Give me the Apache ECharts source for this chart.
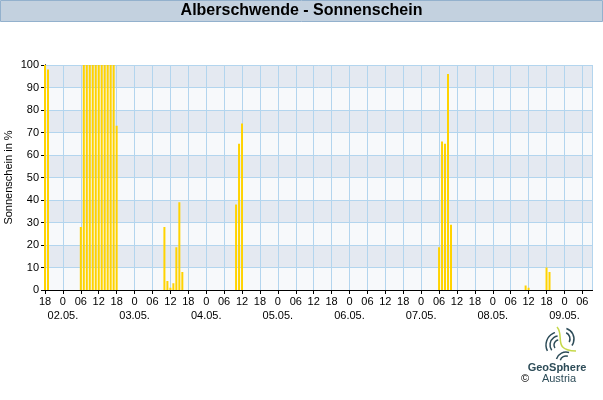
<!DOCTYPE html>
<html>
<head>
<meta charset="utf-8">
<script src="https://cdn.jsdelivr.net/npm/echarts@6/dist/echarts.min.js"></script>
<style>html,body{margin:0;padding:0;background:#fff;}#c{width:603px;height:400px;}</style>
</head>
<body>
<div id="c"></div>
<script>
// ---- data ----
const chartTitle = 'Alberschwende - Sonnenschein';
const yAxisName = 'Sonnenschein in %';
const startDay = 1;      // 01.05.
const startHour = 18;    // axis starts 01.05. 18
const axisHours = 183.4; // axis span in hours
const hourLabels = ['0', '06', '12', '18'];
const dateLabels = ['01.05.', '02.05.', '03.05.', '04.05.', '05.05.', '06.05.', '07.05.', '08.05.', '09.05.'];
const sunTimes = [
  '01.05. 18', '01.05. 19',
  '02.05. 06', '02.05. 07', '02.05. 08', '02.05. 09', '02.05. 10', '02.05. 11', '02.05. 12',
  '02.05. 13', '02.05. 14', '02.05. 15', '02.05. 16', '02.05. 17', '02.05. 18',
  '03.05. 10', '03.05. 11', '03.05. 12', '03.05. 13', '03.05. 14', '03.05. 15', '03.05. 16',
  '04.05. 10', '04.05. 11', '04.05. 12',
  '07.05. 06', '07.05. 07', '07.05. 08', '07.05. 09', '07.05. 10',
  '08.05. 11', '08.05. 12', '08.05. 18', '08.05. 19'
];
const sunValues = [
  100, 98,
  28, 100, 100, 100, 100, 100, 100,
  100, 100, 100, 100, 100, 73,
  28, 4, 1, 3, 19, 39, 8,
  38, 65, 74,
  19, 66, 65, 96, 29,
  2, 1, 10, 8
];

// ---- build ----
function toOffset(s) {
  const day = parseInt(s.slice(0, 2), 10);
  const hour = parseInt(s.slice(7), 10);
  return (day - startDay) * 24 + hour - startHour;
}
const barData = sunTimes.map((t, i) => [toOffset(t), sunValues[i]]);

function hourOf(v) { const t = startHour + v; return ((t % 24) + 24) % 24; }
function dayIndexOf(v) { return Math.floor((startHour + v) / 24); }

const gridColor = '#b3d5ee';
const font = 'Liberation Sans, Arial, sans-serif';

const chart = echarts.init(document.getElementById('c'), null, { renderer: 'canvas' });
chart.setOption({
  animation: false,
  backgroundColor: '#fff',
  grid: { left: 45, right: 10.5, top: 65, bottom: 110, containLabel: false, outerBoundsMode: 'none' },
  xAxis: [{
    type: 'value', min: 0, max: axisHours, interval: 6,
    axisLine: { show: true, lineStyle: { color: '#000', width: 1 } },
    axisTick: { show: true, length: 4, lineStyle: { color: '#000' } },
    splitLine: { show: true, lineStyle: { color: gridColor, width: 1 } },
    axisLabel: {
      showMinLabel: true, showMaxLabel: false, hideOverlap: false, margin: 6, color: '#000', fontSize: 11, fontFamily: font,
      formatter: function (v) { return hourLabels[Math.round(hourOf(v) / 6) % 4]; }
    }
  }, {
    type: 'value', position: 'top', min: 0, max: axisHours,
    axisLine: { show: true, lineStyle: { color: '#000' } },
    axisTick: { show: false }, axisLabel: { show: false }, splitLine: { show: false }
  }, {
    type: 'value', position: 'bottom', offset: 14, min: 0, max: axisHours, interval: 6,
    axisLine: { show: false }, axisTick: { show: false }, splitLine: { show: false },
    axisLabel: {
      showMinLabel: true, showMaxLabel: false, hideOverlap: false, margin: 6, color: '#000', fontSize: 11, fontFamily: font,
      formatter: function (v) { return hourOf(v) === 0 ? dateLabels[dayIndexOf(v)] : ''; }
    }
  }],
  yAxis: [{
    type: 'value', min: 0, max: 100, interval: 10,
    name: yAxisName, nameLocation: 'middle', nameGap: 31, nameRotate: 90, nameMoveOverlap: false,
    nameTextStyle: { color: '#000', fontSize: 11, fontFamily: font },
    axisLine: { show: true, lineStyle: { color: '#000', width: 1 } },
    axisTick: { show: true, length: 4, lineStyle: { color: '#000' } },
    axisLabel: { margin: 6, color: '#000', fontSize: 11, fontFamily: font },
    splitLine: { show: true, lineStyle: { color: gridColor, width: 1 } },
    splitArea: { show: true, areaStyle: { color: ['#f7f9fb', '#e4e9f1'] } }
  }, {
    type: 'value', position: 'right', min: 0, max: 100,
    axisLine: { show: true, lineStyle: { color: '#000' } },
    axisTick: { show: false }, axisLabel: { show: false }, splitLine: { show: false }
  }],
  series: [{
    type: 'bar', xAxisIndex: 0, yAxisIndex: 0,
    data: barData, barWidth: 2, clip: true,
    itemStyle: { color: '#ffd300' }
  }],
  graphic: [
    { type: 'rect', shape: { x: 0.5, y: 0.5, width: 602, height: 21 },
      style: { fill: '#c3d1df', stroke: '#93b1cd', lineWidth: 1 }, z: 10 },
    { type: 'text', x: 301.5, y: 11, z: 11,
      style: { text: chartTitle, fill: '#000', font: 'bold 16px ' + font, textAlign: 'center', textVerticalAlign: 'middle' } },
    // logo
    { type: 'arc', shape: { cx: 559, cy: 345, r: 5, startAngle: Math.PI * 0.8, endAngle: Math.PI * 1.45 }, style: { stroke: '#2d4c58', lineWidth: 1.5, fill: null } },
    { type: 'arc', shape: { cx: 559, cy: 345, r: 9, startAngle: Math.PI * 0.8, endAngle: Math.PI * 1.45 }, style: { stroke: '#2d4c58', lineWidth: 1.5, fill: null } },
    { type: 'arc', shape: { cx: 559, cy: 345, r: 13, startAngle: Math.PI * 0.85, endAngle: Math.PI * 1.4 }, style: { stroke: '#2d4c58', lineWidth: 1.5, fill: null } },
    { type: 'arc', shape: { cx: 563, cy: 339, r: 7, startAngle: -Math.PI * 0.35, endAngle: Math.PI * 0.15 }, style: { stroke: '#2d4c58', lineWidth: 1.5, fill: null } },
    { type: 'arc', shape: { cx: 563, cy: 339, r: 11, startAngle: -Math.PI * 0.4, endAngle: Math.PI * 0.2 }, style: { stroke: '#2d4c58', lineWidth: 1.5, fill: null } },
    { type: 'arc', shape: { cx: 566, cy: 362, r: 6, startAngle: Math.PI * 1.1, endAngle: Math.PI * 1.6 }, style: { stroke: '#2d4c58', lineWidth: 1.5, fill: null } },
    { type: 'arc', shape: { cx: 566, cy: 362, r: 10, startAngle: Math.PI * 1.1, endAngle: Math.PI * 1.6 }, style: { stroke: '#2d4c58', lineWidth: 1.5, fill: null } },
    { type: 'bezierCurve', shape: { x1: 557, y1: 327, cpx1: 565, cpy1: 336, cpx2: 552, cpy2: 350, x2: 576, y2: 351 }, style: { stroke: '#c6d84a', lineWidth: 1.5, fill: null } },
    { type: 'text', x: 557, y: 368, style: { text: 'GeoSphere', fill: '#2d4c58', font: 'bold 11px ' + font, textAlign: 'center', textVerticalAlign: 'middle' } },
    { type: 'text', x: 559, y: 379, style: { text: 'Austria', fill: '#2d4c58', font: '11px ' + font, textAlign: 'center', textVerticalAlign: 'middle' } },
    { type: 'text', x: 525, y: 379, style: { text: '©', fill: '#000', font: '11px ' + font, textAlign: 'center', textVerticalAlign: 'middle' } }
  ]
});
</script>
</body>
</html>
